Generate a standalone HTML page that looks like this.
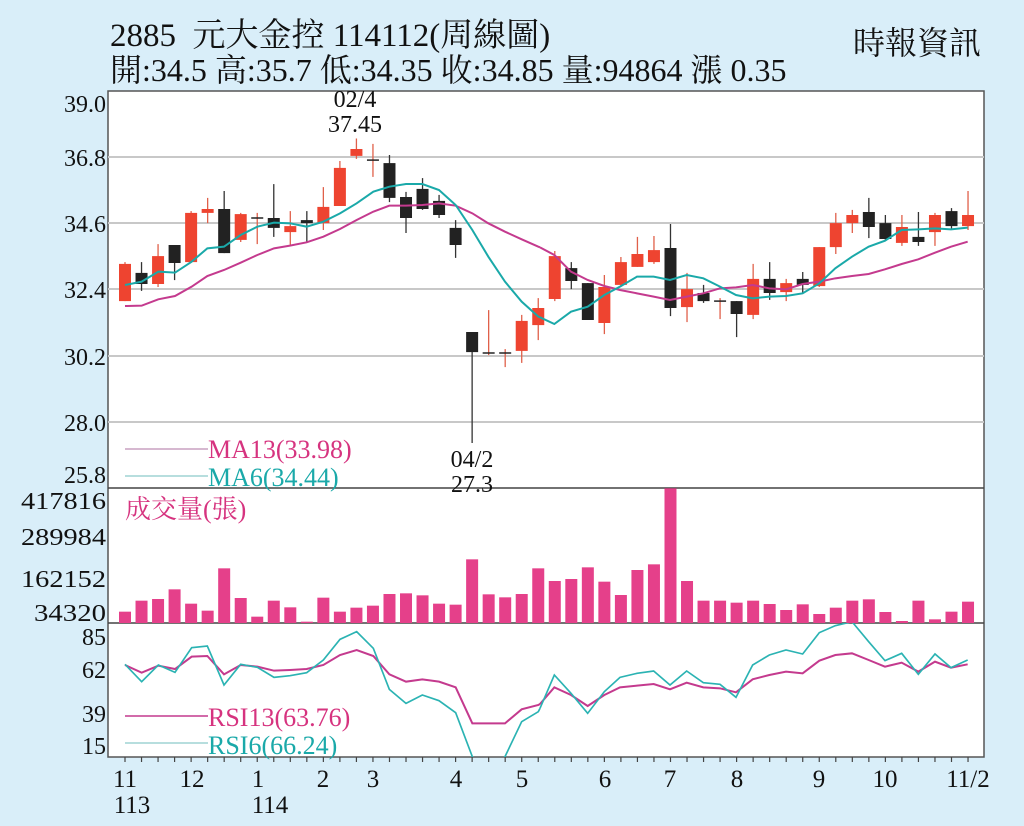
<!DOCTYPE html>
<html><head><meta charset="utf-8">
<style>
html,body{margin:0;padding:0;background:#d9eef9;}
body{width:1024px;height:826px;overflow:hidden;position:relative;font-family:"Liberation Serif","Noto Serif CJK SC",serif;color:#111;}
.t{position:absolute;white-space:nowrap;}
</style></head><body>
<div class="t" style="left:110px;top:9px;font-size:33px;">2885&nbsp; 元大金控 114112(周線圖)</div>
<div class="t" style="left:110px;top:45px;font-size:32px;">開:34.5 高:35.7 低:34.35 收:34.85 量:94864 漲 0.35</div>
<div class="t" style="left:853px;top:18px;font-size:32px;">時報資訊</div>
<svg id="s" width="1024" height="826" style="position:absolute;left:0;top:0" xmlns="http://www.w3.org/2000/svg" font-family="Liberation Serif, serif">
<rect x="108" y="91" width="876" height="666" fill="#fff" stroke="#555" stroke-width="1.5"/>
<g stroke="#c8c8c8" stroke-width="2">
<line x1="108" x2="984" y1="157" y2="157"/><line x1="108" x2="984" y1="223" y2="223"/>
<line x1="108" x2="984" y1="289" y2="289"/><line x1="108" x2="984" y1="356" y2="356"/>
<line x1="108" x2="984" y1="422" y2="422"/>
</g>
<line x1="108" x2="984" y1="488" y2="488" stroke="#444" stroke-width="1.5"/>
<line x1="108" x2="984" y1="623" y2="623" stroke="#444" stroke-width="1.5"/>
<g font-size="24" text-anchor="end" fill="#111">
<text x="106" y="112">39.0</text><text x="106" y="166">36.8</text><text x="106" y="232">34.6</text>
<text x="106" y="298">32.4</text><text x="106" y="365">30.2</text><text x="106" y="431">28.0</text>
<text x="106" y="483">25.8</text>
</g>
<g font-size="24" text-anchor="end" fill="#111" textLength="85">
<text x="106" y="509" textLength="85" lengthAdjust="spacingAndGlyphs">417816</text><text x="106" y="545" textLength="85" lengthAdjust="spacingAndGlyphs">289984</text><text x="106" y="587" textLength="85" lengthAdjust="spacingAndGlyphs">162152</text><text x="106" y="621" textLength="72" lengthAdjust="spacingAndGlyphs">34320</text>
</g>
<g font-size="24" text-anchor="end" fill="#111">
<text x="106" y="645">85</text><text x="106" y="678">62</text><text x="106" y="722">39</text><text x="106" y="754">15</text>
</g>
<g id="cd"></g>
<g id="vol" fill="#e5408a"></g>
<g transform="translate(100,80) scale(0.33333)" fill="none">
<polyline stroke="#c43a8e" stroke-width="6" points="75,678 125,677 175,658 225,648 275,620 322,588 372,570 422,548 472,525 522,505 570,497 620,487 670,470 720,447 770,420 820,395 868,377 918,377 967,375 1017,370 1067,377 1117,400 1165,430 1215,455 1265,478 1315,500 1320,502"/>
<polyline stroke="#1aa9a9" stroke-width="6" points="75,615 125,605 175,575 225,578 275,545 322,505 372,500 422,465 472,440 522,428 570,430 620,440 670,425 720,400 770,370 820,335 868,320 918,312 967,312 1017,330 1067,375 1117,450 1165,530 1215,605 1265,665 1315,710 1320,712"/>
</g>
<g transform="translate(540,80) scale(0.33333)" fill="none">
<polyline stroke="#c43a8e" stroke-width="6" points="0,502 43,525 93,575 143,600 193,618 240,630 291,640 341,650 390,660 440,650 490,640 540,625 588,622 638,615 688,625 738,628 788,612 838,605 886,595 936,588 986,582 1035,568 1085,552 1135,538 1185,518 1233,500 1283,485"/>
<polyline stroke="#1aa9a9" stroke-width="6" points="0,712 43,732 93,695 143,680 193,645 240,620 291,590 341,590 390,600 440,585 490,595 540,620 588,645 638,655 688,650 738,648 788,640 838,610 886,565 936,530 986,500 1035,482 1085,450 1135,448 1185,445 1233,448 1283,443"/>
</g>
<clipPath id="rc"><rect x="108" y="623" width="876" height="134"/></clipPath>
<g clip-path="url(#rc)">
<g transform="translate(100,480) scale(0.33333)" fill="none">
<polyline stroke="#c43a8e" stroke-width="6" points="75,555 125,578 175,557 225,567 275,530 322,528 372,583 422,555 472,560 522,572 570,570 620,567 670,555 720,525 770,510 820,528 868,583 918,605 967,598 1017,605 1067,622 1117,730 1165,730 1215,730 1265,688 1315,675 1320,672"/>
<polyline stroke="#2bb3b3" stroke-width="5" points="75,553 125,605 175,555 225,577 275,503 322,498 372,615 422,553 472,562 522,592 570,587 620,578 670,540 720,478 770,455 820,505 868,628 918,670 967,645 1017,662 1067,698 1117,830 1165,900 1215,830 1265,725 1315,695 1320,685"/>
</g>
<g transform="translate(540,480) scale(0.33333)" fill="none">
<polyline stroke="#c43a8e" stroke-width="6" points="0,672 43,622 93,645 143,678 193,645 240,622 291,617 341,612 390,628 440,608 490,622 540,625 588,637 638,598 688,585 738,575 788,580 838,542 886,525 936,520 986,540 1035,560 1085,548 1135,575 1185,545 1233,563 1283,553"/>
<polyline stroke="#2bb3b3" stroke-width="5" points="0,685 43,585 93,640 143,700 193,635 240,592 291,580 341,573 390,615 440,573 490,608 540,613 588,652 638,555 688,525 738,510 788,522 838,458 886,437 936,425 986,485 1035,542 1085,520 1135,583 1185,522 1233,563 1283,540"/>
</g>
</g>
<g stroke-width="1.5">
<line x1="125" x2="208" y1="449" y2="449" stroke="#c9a0c0"/>
<line x1="125" x2="208" y1="476" y2="476" stroke="#9fd3d3"/>
<line x1="125" x2="208" y1="716" y2="716" stroke="#c43a8e"/>
<line x1="125" x2="208" y1="743" y2="743" stroke="#9fd3d3"/>
</g>
<g font-size="26">
<text x="208" y="458" fill="#d6337f">MA13(33.98)</text>
<text x="208" y="486" fill="#1aa9a9">MA6(34.44)</text>
<text x="208" y="726" fill="#d6337f">RSI13(63.76)</text>
<text x="208" y="754" fill="#1aa9a9">RSI6(66.24)</text>
<text x="125" y="518" fill="#d6337f" font-family="Liberation Serif, Noto Serif CJK SC, serif">成交量(張)</text>
<text x="355" y="107" text-anchor="middle" fill="#111" font-size="24">02/4</text>
<text x="355" y="132" text-anchor="middle" fill="#111" font-size="24">37.45</text>
<text x="472" y="467" text-anchor="middle" fill="#111" font-size="24">04/2</text>
<text x="472" y="492" text-anchor="middle" fill="#111" font-size="24">27.3</text>
</g>
<g id="ticks" stroke="#444" stroke-width="1.2"></g>
<g font-size="25" text-anchor="middle" fill="#111">
<text x="125" y="787">11</text><text x="132" y="813">113</text>
<text x="192" y="787">12</text>
<text x="258" y="787">1</text><text x="270" y="813">114</text>
<text x="323" y="787">2</text><text x="373" y="787">3</text><text x="456" y="787">4</text>
<text x="522" y="787">5</text><text x="605" y="787">6</text><text x="670" y="787">7</text>
<text x="737" y="787">8</text><text x="819" y="787">9</text><text x="885" y="787">10</text>
<text x="968" y="787">11/2</text>
</g>
</svg>
<script>
var D=[[32.03,33.27,33.33,32.03],[32.97,32.6,33.33,32.37],[32.6,33.53,33.93,32.5],[33.9,33.3,33.9,32.73],[33.33,34.97,35.03,33.33],[34.97,35.1,35.47,34.63],[35.1,33.63,35.7,33.63],[34.07,34.93,34.97,34.0],[34.8,34.8,34.97,33.93],[34.8,34.47,35.93,34.17],[34.33,34.53,35.03,33.9],[34.73,34.63,35.03,33.97],[34.63,35.17,35.83,34.4],[35.2,36.47,36.7,35.2],[36.87,37.1,37.45,36.77],[36.73,36.73,37.27,36.17],[36.63,35.47,36.9,35.33],[35.5,34.8,35.67,34.3],[35.77,35.1,36.13,35.07],[35.37,34.9,35.57,34.8],[34.47,33.9,34.73,33.47],[31.0,30.33,31.0,27.3],[30.3,30.3,31.73,30.23],[30.3,30.3,30.43,29.83],[30.37,31.37,31.57,29.97],[31.23,31.8,32.13,30.73],[32.1,33.53,33.7,32.03],[33.13,32.7,33.33,32.43],[32.63,31.4,32.63,31.4],[31.3,32.5,32.9,30.93],[32.57,33.33,33.5,32.5],[33.17,33.6,34.17,33.17],[33.33,33.73,34.2,33.27],[33.8,31.8,34.6,31.53],[31.83,32.43,32.97,31.33],[32.3,32.03,32.57,31.97],[32.03,32.03,32.13,31.43],[32.03,31.6,32.03,30.83],[31.57,32.77,33.27,31.43],[32.77,32.3,33.33,32.07],[32.33,32.63,32.77,32.03],[32.77,32.57,33.0,32.3],[32.53,33.83,33.83,32.5],[33.83,34.63,34.97,33.6],[34.63,34.9,35.07,34.3],[35.0,34.5,35.47,34.13],[34.63,34.1,34.9,34.05],[33.97,34.5,34.9,33.87],[34.17,34.0,35.0,33.87],[34.33,34.9,34.97,33.87],[35.03,34.53,35.13,34.4],[34.53,34.9,35.7,34.4]];
var V=[395,362,357,328,371,392,265,354,410,362,382,425,353,395,383,377,342,340,346,371,374,238,343,352,342,265,303,297,262,305,345,270,253,25,303,362,362,368,362,372,390,373,402,383,362,358,396,423,362,418,395,365];
var ns="http://www.w3.org/2000/svg";
function el(p,t,a){var e=document.createElementNS(ns,t);for(var k in a)e.setAttribute(k,a[k]);p.appendChild(e);return e;}
function Y(p){return 92+(39-p)*30;}
var cd=document.getElementById('cd'),vol=document.getElementById('vol'),tk=document.getElementById('ticks');
for(var i=0;i<D.length;i++){
 var x=125+i*16.53,d=D[i],o=d[0],c=d[1],up=c>=o;
 var col=up?'#ee4430':'#222';
 el(cd,'line',{x1:x,x2:x,y1:Y(d[2]),y2:Y(d[3]),stroke:up?'#e0604a':'#333','stroke-width':1.3});
 var t=Math.min(Y(o),Y(c)),h=Math.abs(Y(o)-Y(c));
 if(h<1.5){el(cd,'line',{x1:x-6,x2:x+6,y1:t,y2:t,stroke:'#222','stroke-width':1.5});}
 else el(cd,'rect',{x:x-6,y:t,width:12,height:h,fill:col});
 var vy=480+V[i]/3;
 el(vol,'rect',{x:x-6,y:vy,width:12,height:623-vy});
 el(tk,'line',{x1:x,x2:x,y1:757,y2:762});
}
</script>
</body></html>
